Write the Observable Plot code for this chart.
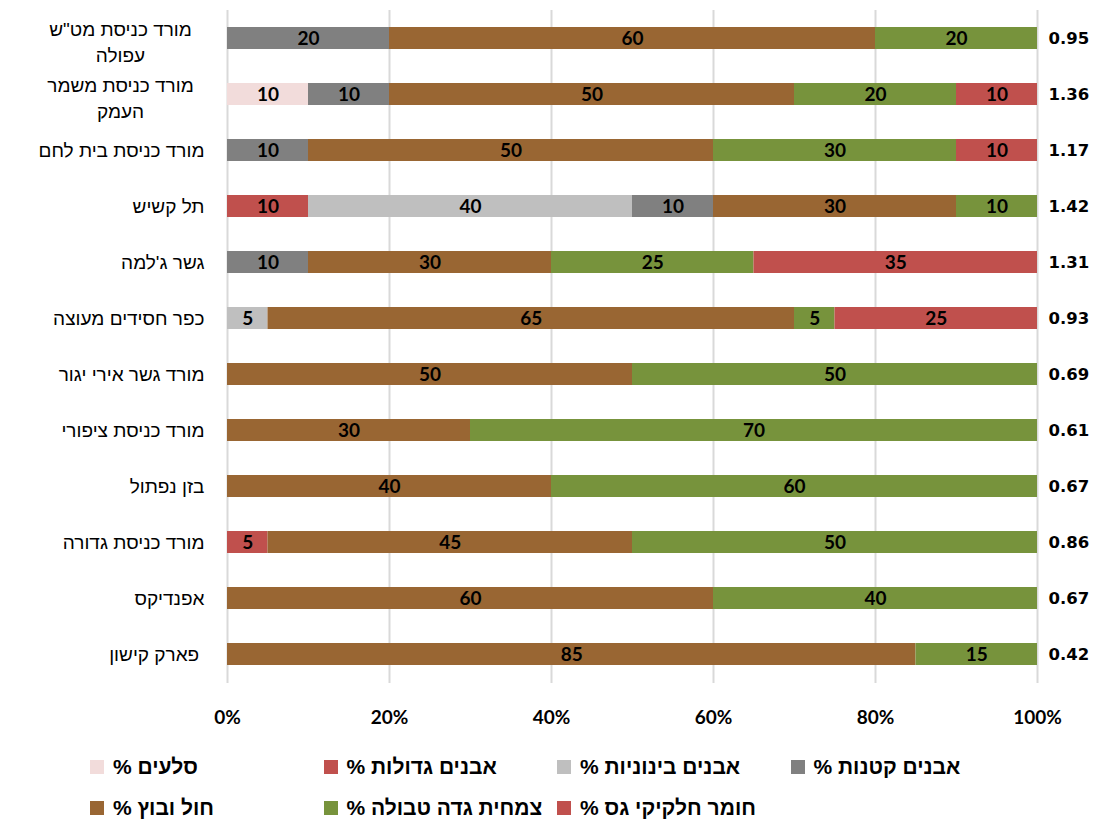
<!DOCTYPE html>
<html lang="he">
<head>
<meta charset="utf-8">
<script src="https://cdn.jsdelivr.net/npm/d3@7"></script>
<script src="https://cdn.jsdelivr.net/npm/@observablehq/plot@0.6"></script>
<style>
  body { margin: 0; background: #fff; }
  #chart { position: relative; width: 1099px; height: 823px; }
  #legend {
    position: absolute; left: 90px; top: 756px;
    display: grid; grid-template-columns: repeat(4, 233.5px); row-gap: 19px;
    font-family: "Liberation Sans", Arial, sans-serif; font-weight: bold; font-size: 21px; color: #000;
  }
  .item { display: flex; align-items: center; height: 22px; }
  .sw { width: 14px; height: 14px; margin-right: 9px; flex: none; }
</style>
</head>
<body>
<div id="chart"><div id="legend"></div></div>
<script>
// Sampling sites, top to bottom (long names break onto two lines)
const sites = [
  "מורד כניסת מט\"ש\nעפולה",
  "מורד כניסת משמר\nהעמק",
  "מורד כניסת בית לחם",
  "תל קשיש",
  "גשר ג'למה",
  "כפר חסידים מעוצה",
  "מורד גשר אירי יגור",
  "מורד כניסת ציפורי",
  "בזן נפתול",
  "מורד כניסת גדורה",
  "אפנדיקס",
  "פארק קישון\u00a0"
];

// Substrate composition (% cover) per site, in stacking order
const seriesNames = [
  "סלעים %",
  "אבנים גדולות %",
  "אבנים בינוניות %",
  "אבנים קטנות %",
  "חול ובוץ %",
  "צמחית גדה טבולה %",
  "חומר חלקיקי גס %"
];
const rocks        = [0, 10, 0, 0, 0, 0, 0, 0, 0, 0, 0, 0];
const largeStones  = [0, 0, 0, 10, 0, 0, 0, 0, 0, 5, 0, 0];
const mediumStones = [0, 0, 0, 40, 0, 5, 0, 0, 0, 0, 0, 0];
const smallStones  = [20, 10, 10, 10, 10, 0, 0, 0, 0, 0, 0, 0];
const sandMud      = [60, 50, 50, 30, 30, 65, 50, 30, 40, 45, 60, 85];
const vegetation   = [20, 20, 30, 10, 25, 5, 50, 70, 60, 50, 40, 15];
const coarseMatter = [0, 10, 10, 0, 35, 25, 0, 0, 0, 0, 0, 0];

// Index value shown at the right of each bar
const indexValues = [0.95, 1.36, 1.17, 1.42, 1.31, 0.93, 0.69, 0.61, 0.67, 0.86, 0.67, 0.42];

const xTicks = [0, 20, 40, 60, 80, 100];

const seriesColors = ["#F2DCDB", "#C0504D", "#BFBFBF", "#808080", "#996633", "#77933C", "#C0504D"];

const seriesValues = [rocks, largeStones, mediumStones, smallStones, sandMud, vegetation, coarseMatter];

// Long-form table: one row per (site, component) with a non-zero share
const rows = [];
sites.forEach((site, i) => {
  seriesNames.forEach((series, j) => {
    const value = seriesValues[j][i];
    if (value > 0) rows.push({site, series, value});
  });
});
const indexRows = sites.map((site, i) => ({site, value: indexValues[i]}));

const numFont = "Lato, 'Open Sans', sans-serif";
const labelFont = "'Liberation Sans', Arial, sans-serif";

const chart = Plot.plot({
  width: 1099,
  height: 740,
  marginLeft: 227,
  marginRight: 62,
  marginTop: 10,
  marginBottom: 57,
  style: {background: "transparent", overflow: "visible"},
  x: {domain: [0, 100]},
  y: {domain: sites, paddingInner: 0.6, paddingOuter: 0.3, axis: null},
  color: {domain: seriesNames, range: seriesColors},
  marks: [
    Plot.gridX(xTicks, {stroke: "#d9d9d9", strokeOpacity: 1, strokeWidth: 2}),
    Plot.barX(rows, Plot.stackX({
      x: "value", y: "site", fill: "series", order: seriesNames
    })),
    Plot.text(rows, Plot.stackX({
      x: "value", y: "site", z: "series", order: seriesNames, text: "value",
      fill: "#000", fontWeight: "bold", fontSize: 19, fontFamily: numFont
    })),
    Plot.text(indexRows, {
      y: "site", text: d => d.value.toFixed(2), frameAnchor: "right", dx: 11,
      textAnchor: "start", fill: "#000", fontWeight: "bold", fontSize: 16.5,
      fontFamily: "'DejaVu Sans', Verdana, sans-serif"
    }),
    // Site labels: single-line names right-aligned, wrapped names centred
    Plot.text(sites.filter(s => !s.includes("\n")), {
      y: d => d, text: d => d, frameAnchor: "left", dx: -23, textAnchor: "end",
      fill: "#000", fontSize: 19, fontFamily: labelFont
    }),
    Plot.text(sites.filter(s => s.includes("\n")), {
      y: d => d, text: d => d, frameAnchor: "left", dx: -107, dy: 2, textAnchor: "middle",
      lineHeight: 1.4, fill: "#000", fontSize: 19, fontFamily: labelFont
    }),
    Plot.axisX(xTicks, {
      tickFormat: d => d + "%", tickSize: 0, tickPadding: 27,
      fontSize: 19, fontWeight: "bold", fontFamily: numFont, color: "#000", label: null
    })
  ]
});

document.getElementById("chart").prepend(chart);

// Legend: two rows of four columns, swatch left of the label
const legendOrder = [
  "סלעים %", "אבנים גדולות %", "אבנים בינוניות %", "אבנים קטנות %",
  "חול ובוץ %", "צמחית גדה טבולה %", "חומר חלקיקי גס %"
];
const legend = d3.select("#legend");
legendOrder.forEach(name => {
  const item = legend.append("div").attr("class", "item");
  item.append("div").attr("class", "sw").style("background", seriesColors[seriesNames.indexOf(name)]);
  item.append("span").attr("dir", "rtl").text(name);
});
</script>
</body>
</html>
